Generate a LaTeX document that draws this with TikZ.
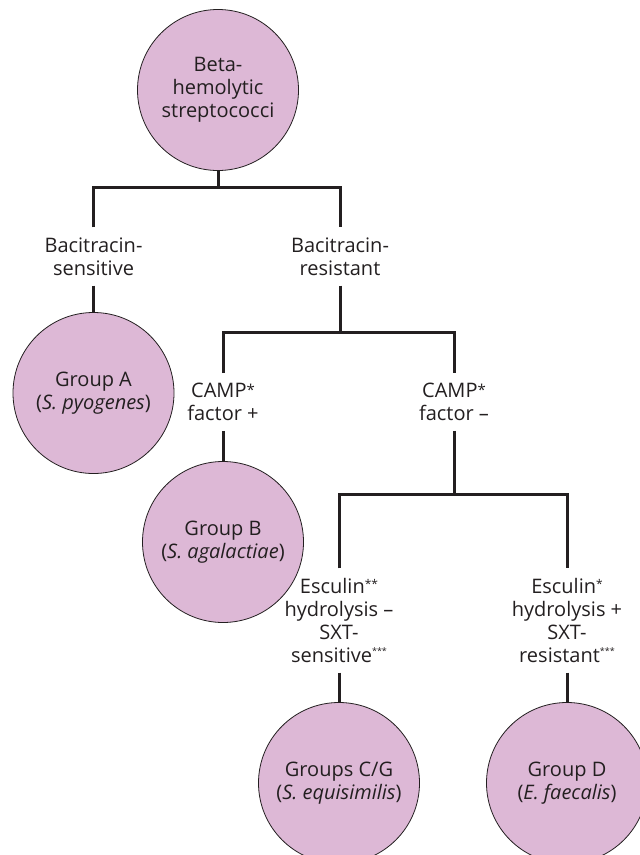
\documentclass[tikz,border=0pt]{standalone}
\usepackage{fontspec}
\setmainfont{Open Sans}
% raised, reduced asterisks for footnote marks
\newcommand\bigast[1]{\raisebox{2pt}{\fontsize{15}{15}\selectfont #1}}
\newcommand\smallast[1]{\raisebox{5pt}{\fontsize{12}{12}\selectfont #1}}
\newcommand\tinyast[1]{\raisebox{7.5pt}{\fontsize{9}{9}\selectfont #1}}
\definecolor{ink}{HTML}{231F20}
\definecolor{lilac}{HTML}{DDB8D6}
\begin{document}
\begin{tikzpicture}[x=1pt,y=-1pt,
  txt/.style={text=ink,font=\fontsize{20}{22.8}\selectfont,align=center},
  group/.style={txt,circle,draw=ink,line width=0.8pt,fill=lilac,
    minimum size=161pt,inner sep=0pt},
  test/.style={txt,inner xsep=2pt,inner ysep=10pt},
  link/.style={draw=ink,line width=3pt,line join=miter}]
\useasboundingbox (0,0) rectangle (640,855);

% organisms
\node[group] (beta) at (218,90) {Beta-\\hemolytic\\streptococci};
\node[group] (gA) at (93.5,393) {Group A\\(\textit{S. pyogenes})};
\node[group] (gB) at (223,542) {Group B\\(\textit{S. agalactiae})};
\node[group] (gCG) at (339,783) {Groups C/G\\(\textit{S. equisimilis})};
\node[group] (gD) at (567,783) {Group D\\(\textit{E. faecalis})};

% test results
\node[test] (bsens) at (93.5,256.5) {Bacitracin-\\sensitive};
\node[test] (bres) at (340,256.5) {Bacitracin-\\resistant};
\node[test] (campp) at (223,402) {CAMP\bigast{*}\\factor +};
\node[test] (campm) at (454,402) {CAMP\bigast{*}\\factor –};
\node[test] (escm) at (339,620.5) {Esculin\smallast{**}\\hydrolysis –\\SXT-\\sensitive\tinyast{***}};
\node[test] (escp) at (567,620.5) {Esculin\smallast{*}\\hydrolysis +\\SXT-\\resistant\tinyast{***}};

% branch points
\coordinate (j1) at (218,187);
\coordinate (j2) at (340,332);
\coordinate (j3) at (454,494);

% connectors
\path[link] (beta.south) -- (j1);
\path[link] (bsens.north) |- (j1) -| (bres.north);
\path[link] (bsens.south) -- (gA.north);
\path[link] (bres.south) -- (j2);
\path[link] (campp.north) |- (j2) -| (campm.north);
\path[link] (campp.south) -- (gB.north);
\path[link] (campm.south) -- (j3);
\path[link] (escm.north) |- (j3) -| (escp.north);
\path[link] (escm.south) -- (gCG.north);
\path[link] (escp.south) -- (gD.north);
\end{tikzpicture}
\end{document}
